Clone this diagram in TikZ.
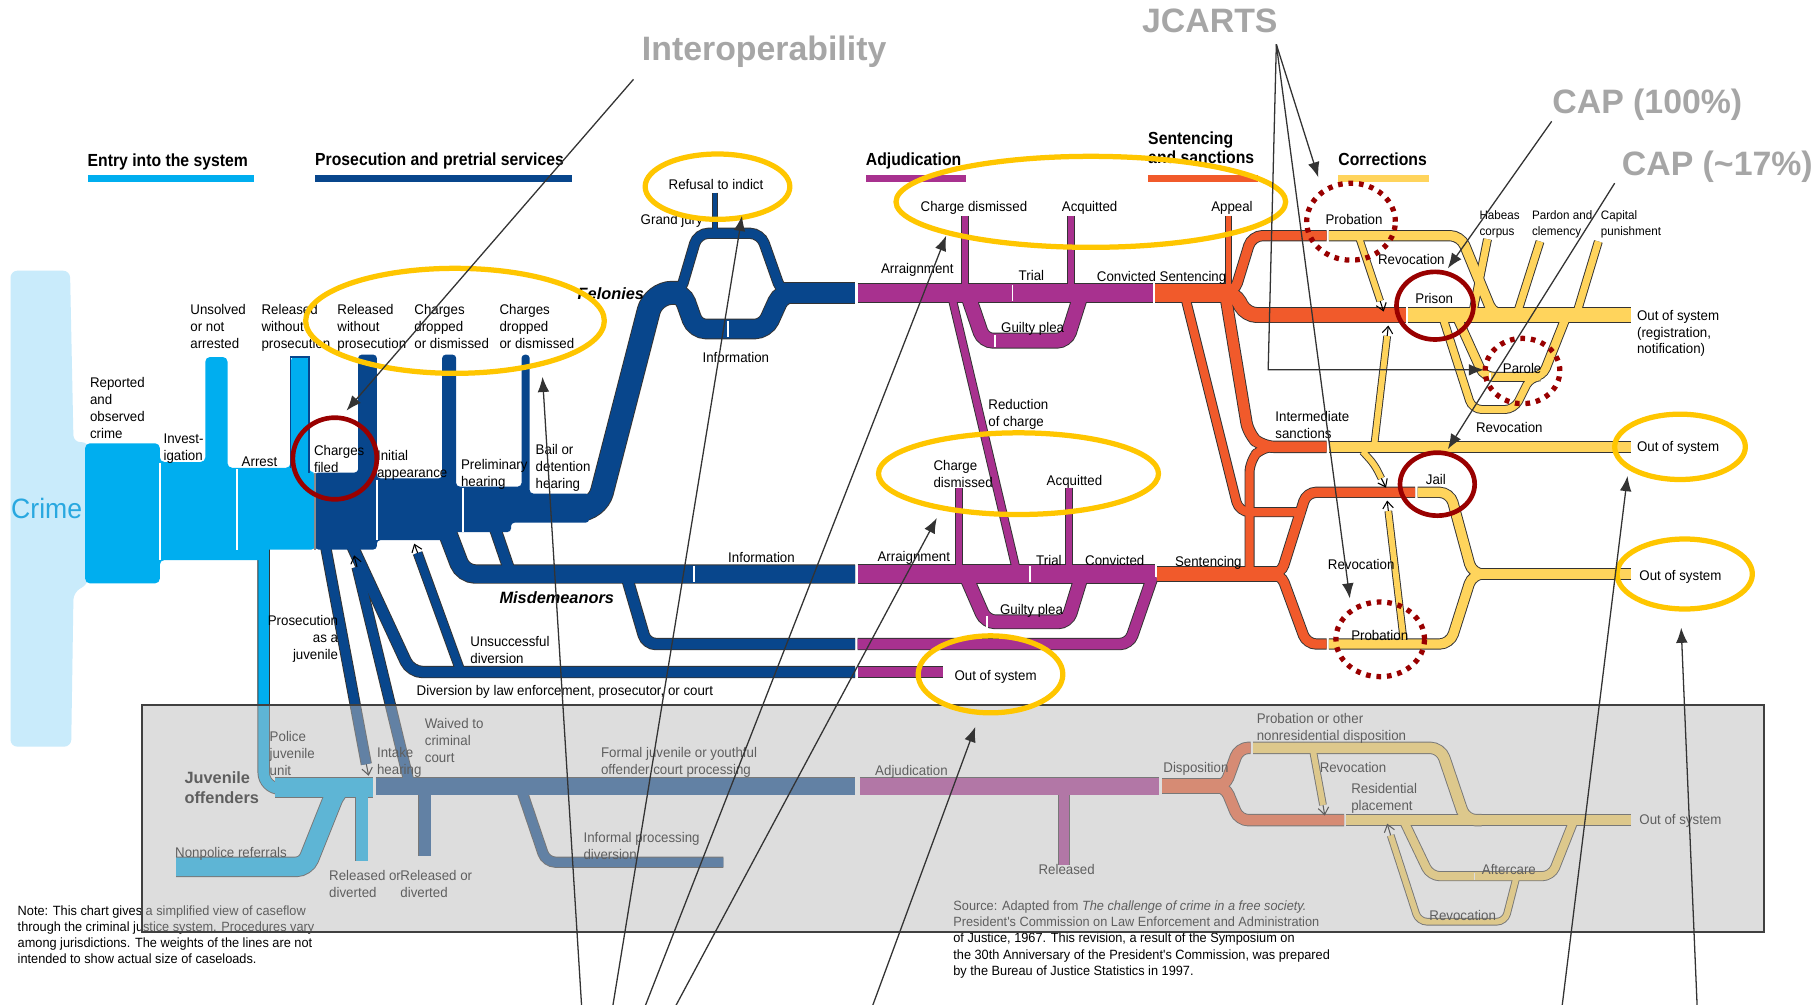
\documentclass[tikz,border=0pt]{standalone}
\usepackage{fontspec}
\setmainfont{Liberation Sans}
\newfontfamily\nar[FakeStretch=0.95]{Liberation Sans}
\newfontfamily\hdr[FakeStretch=0.9]{Liberation Sans}
\usetikzlibrary{arrows.meta}
\definecolor{cy}{HTML}{00AEEF}
\definecolor{crimebg}{HTML}{C9EBFB}
\definecolor{crimetxt}{HTML}{29A8E0}
\definecolor{db}{HTML}{08468C}
\definecolor{mg}{HTML}{A8318F}
\definecolor{orx}{HTML}{F15A2B}
\definecolor{yl}{HTML}{FFD45C}
\definecolor{ell}{HTML}{FFC600}
\definecolor{dred}{HTML}{990000}
\definecolor{anngray}{HTML}{A6A6A6}
\definecolor{veil}{HTML}{BDBDBD}
\pgfdeclarelayer{bg}
\pgfdeclarelayer{cas}
\pgfdeclarelayer{fil}
\pgfsetlayers{bg,cas,fil,main}
\newcommand\pp[4][]{%
 \begin{pgfonlayer}{cas}\draw[line width=#2pt+1.6pt,draw=black!80,rounded corners=7pt,#1] #4;\end{pgfonlayer}%
 \begin{pgfonlayer}{fil}\draw[line width=#2pt,draw=#3,rounded corners=7pt,#1] #4;\end{pgfonlayer}}
\tikzset{
 lab/.style={font=\nar\fontsize{12}{14.5}\selectfont,inner sep=0pt,anchor=north west,align=left},
 labs/.style={font=\nar\fontsize{10.5}{13.5}\selectfont,inner sep=0pt,anchor=north west,align=left},
 labr/.style={lab,anchor=north east,align=right},
 bi/.style={font=\bfseries\itshape\fontsize{14}{16}\selectfont,inner sep=0pt,anchor=north west},
 hd/.style={font=\hdr\bfseries\fontsize{15}{16.5}\selectfont,inner sep=0pt,anchor=north west,align=left},
 annt/.style={font=\bfseries\fontsize{29}{30}\selectfont,text=anngray,inner sep=0pt},
 ann/.style={draw=black!80,line width=1.1pt,-{Latex[length=13pt,width=10pt]}},
 tip/.style={draw=black,line width=0.9pt,-{Straight Barb[length=6pt,width=9pt]}},
 yel/.style={draw=ell,line width=4.5pt},
 rc/.style={draw=dred,line width=4pt},
 rd/.style={draw=dred,line width=4.5pt,dash pattern=on 4pt off 5pt},
 slit/.style={draw=white,line width=1.2pt},
}
\begin{document}
\begin{tikzpicture}[x=1pt,y=-1pt]
\useasboundingbox (0,0) rectangle (1560,861.4);
\begin{pgfonlayer}{bg}\fill[white] (0,0) rectangle (1560,861.4);\end{pgfonlayer}

% ---------- blocks ----------
\begin{pgfonlayer}{fil}
\fill[crimebg,rounded corners=6pt] (9,232) -- (60,232) -- (63,379) -- (76,379) -- (76,500) -- (63,508) -- (61,640) -- (9,640) -- cycle;
\fill[cy,rounded corners=4pt] (73,380) -- (137,380) -- (137,396) -- (176,396) -- (176,306) -- (195,306) -- (195,401) -- (249,401) -- (249,306) -- (265,306) -- (265,405) -- (271,405) -- (271,471) -- (226,471) -- (226,480) -- (137,480) -- (137,500) -- (73,500) -- cycle;
\fill[db,rounded corners=3pt] (270,405) -- (307,405) -- (307,304) -- (323,304) -- (323,410) -- (379,410) -- (379,304) -- (391,304) -- (391,417) -- (447,417) -- (447,304) -- (454,304) -- (454,423) -- (505,423) -- (505,448) -- (438,448) -- (438,456) -- (389,456) -- (389,463) -- (323,463) -- (323,471) -- (270,471) -- cycle;
\end{pgfonlayer}

% ---------- felonies ----------
\pp[rounded corners=16pt]{19}{db}{(470,437) -- (512,437) -- (560,251) -- (586,251)}
\pp[rounded corners=9pt]{8}{db}{(570,251) -- (583,251) -- (598,200) -- (652,200) -- (670,251) -- (690,251)}
\pp[rounded corners=9pt]{16}{db}{(570,251) -- (585,251) -- (596,282) -- (656,282) -- (670,251) -- (690,251)}
\pp{17}{db}{(668,251) -- (733,251)}
\pp{3}{db}{(613,165) -- (613,198)}
\pp{16}{mg}{(735,251) -- (988,251)}
\pp{5}{mg}{(827,185) -- (827,251)}
\pp{5}{mg}{(918,185) -- (918,251)}
\pp[rounded corners=8pt]{12}{mg}{(829,251) -- (843,292) -- (914,292) -- (927,251)}
\pp{6}{mg}{(815,251) -- (872,492)}
\pp{16}{orx}{(990,251) -- (1060,251)}
\pp{5}{orx}{(1053,185) -- (1053,251)}

% ---------- misdemeanors ----------
\pp[rounded corners=10pt]{15}{db}{(381,450) -- (397,492) -- (733,492)}
\pp{9}{db}{(424,452) -- (437,490)}
\pp{15}{mg}{(735,492) -- (990,492)}
\pp{5}{mg}{(822,418) -- (822,492)}
\pp{5}{mg}{(916,418) -- (916,492)}
\pp[rounded corners=8pt]{11}{mg}{(828,494) -- (845,533) -- (915,533) -- (927,494)}
\pp[rounded corners=8pt]{9}{db}{(537,494) -- (554,552) -- (733,552)}
\pp[rounded corners=8pt]{9}{mg}{(735,552) -- (968,552) -- (988,494)}
\pp[rounded corners=10pt]{9}{db}{(301,466) -- (352,576) -- (733,576)}
\pp{9}{mg}{(735,576) -- (808,576)}
\pp{7}{db}{(395,576) -- (358,474)}
\pp{8}{db}{(279,468) -- (314,655)}
\pp{8}{db}{(352,676) -- (306,486)}
\pp{12}{orx}{(992,492) -- (1100,492)}

% ---------- sentencing / corrections ----------
\pp[rounded corners=9pt]{8}{orx}{(1045,251) -- (1058,251) -- (1073,202) -- (1137,202)}
\pp[rounded corners=9pt]{12}{orx}{(1045,251) -- (1058,251) -- (1068,270) -- (1205,270)}
\pp[rounded corners=10pt]{9}{orx}{(1050,251) -- (1070,372) -- (1082,383) -- (1137,383)}
\pp[rounded corners=10pt]{7}{orx}{(1071,492) -- (1071,395) -- (1082,383) -- (1095,383)}
\pp[rounded corners=9pt]{7}{orx}{(1015,251) -- (1062,439) -- (1118,439)}
\pp[rounded corners=8pt]{8}{orx}{(1090,492) -- (1098,492) -- (1120,422) -- (1213,422)}
\pp[rounded corners=8pt]{8}{orx}{(1090,492) -- (1098,492) -- (1120,552) -- (1137,552)}
\pp[rounded corners=9pt]{8}{yl}{(1139,202) -- (1252,202) -- (1280,270) -- (1295,270)}
\pp{12}{yl}{(1207,270) -- (1398,270)}
\pp{6}{yl}{(1262,270) -- (1275,205)}
\pp{6}{yl}{(1300,270) -- (1320,207)}
\pp{6}{yl}{(1351,270) -- (1370,207)}
\pp[rounded corners=8pt]{7}{yl}{(1248,270) -- (1272,323) -- (1322,323) -- (1343,270)}
\pp[rounded corners=8pt]{6}{yl}{(1236,270) -- (1262,351) -- (1298,351) -- (1312,323) -- (1320,323)}
\pp{5}{yl}{(1165,204) -- (1183,258)}
\pp{9}{yl}{(1139,383) -- (1398,383)}
\pp{5}{yl}{(1178,381) -- (1189,288)}
\pp[rounded corners=6pt]{5}{yl}{(1168,387) -- (1178,398) -- (1184,410)}
\pp[rounded corners=9pt]{8}{yl}{(1215,422) -- (1243,422) -- (1262,492) -- (1280,492)}
\pp[rounded corners=9pt]{8}{yl}{(1139,552) -- (1243,552) -- (1262,492) -- (1280,492)}
\pp{8}{yl}{(1262,492) -- (1398,492)}
\pp{5}{yl}{(1203,548) -- (1190,438)}

% ---------- juvenile ----------
\pp[rounded corners=14pt]{9}{cy}{(226,468) -- (226,676) -- (300,676)}
\pp{16}{cy}{(236,675) -- (320,675)}
\pp[rounded corners=8pt]{16}{cy}{(151,743) -- (262,743) -- (288,678) -- (292,675)}
\pp{10}{cy}{(310,675) -- (310,738)}
\pp{14}{db}{(322,674) -- (733,674)}
\pp{10}{db}{(364,674) -- (364,734)}
\pp[rounded corners=8pt]{8}{db}{(446,674) -- (468,739) -- (620,739)}
\pp{14}{mg}{(737,674) -- (993,674)}
\pp{9}{mg}{(912,674) -- (912,741)}
\pp{12}{orx}{(996,674) -- (1052,674)}
\pp[rounded corners=8pt]{9}{orx}{(1040,674) -- (1050,674) -- (1062,641) -- (1072,641)}
\pp[rounded corners=8pt]{9}{orx}{(1040,674) -- (1050,674) -- (1062,703) -- (1152,703)}
\pp[rounded corners=9pt]{9}{yl}{(1074,641) -- (1235,641) -- (1256,703) -- (1270,703)}
\pp{9}{yl}{(1154,703) -- (1398,703)}
\pp{5}{yl}{(1125,641) -- (1134,690)}
\pp[rounded corners=8pt]{7}{yl}{(1203,703) -- (1226,751) -- (1330,751) -- (1349,703)}
\pp[rounded corners=7pt]{5}{yl}{(1300,751) -- (1290,790) -- (1216,790) -- (1192,716)}

% ---------- slits, edges, small arrow tips ----------
\draw[black!45,line width=1.5pt] (270,405) -- (270,471);
\draw[db,line width=1.2pt] (249,401) -- (249,306) -- (265,306) -- (265,405);
\draw[slit] (137,397) -- (137,480);
\draw[slit] (203,402) -- (203,471);
\draw[slit] (323,411) -- (323,463);
\draw[slit] (397,418) -- (397,456);
\draw[slit] (624,275) -- (624,289);
\draw[slit] (595,485) -- (595,499);
\draw[slit] (868,244) -- (868,258);
\draw[slit] (883,485) -- (883,499);
\draw[slit] (853,287) -- (853,297);
\draw[slit] (846,528) -- (846,538);
\draw[slit] (1277,320) -- (1277,326);
\draw[slit] (1264,748) -- (1264,754);
\draw[tip] (358,474) -- (355,466);
\draw[tip] (314,655) -- (316,665);
\draw[tip] (306,486) -- (303.5,476);
\draw[tip] (1183,258) -- (1186,267);
\draw[tip] (1189,288) -- (1190,279);
\draw[tip] (1184,410) -- (1188,418);
\draw[tip] (1190,438) -- (1189,429);
\draw[tip] (1134,690) -- (1135.5,699);
\draw[tip] (1192,716) -- (1189,706);

% ---------- headers ----------
\node[hd] (h1) at (75,132) {Entry into the system};
\node[hd] (h2) at (270,131) {Prosecution and pretrial services};
\node[hd] (h3) at (742,131) {Adjudication};
\node[hd] (h4) at (984,113) {Sentencing\\and sanctions};
\node[hd] (h5) at (1147,131) {Corrections};
\fill[cy] (75,150) rectangle (218,156);
\fill[db] (270,150) rectangle (490,156);
\fill[mg] (742,150) rectangle (828,156);
\fill[orx] (984,150) rectangle (1078,156);
\fill[yl] (1147,150) rectangle (1225,156);
\node[font=\nar\fontsize{24}{24}\selectfont,text=crimetxt,inner sep=0pt] (crime) at (40,436) {Crime};

% ---------- labels ----------
\node[lab] (t1) at (77,323.5) {Reported\\and\\observed\\crime};
\node[lab] (t2) at (140,371.5) {Invest-\\igation};
\node[lab] (t3) at (163,260.5) {Unsolved\\or not\\arrested};
\node[lab] (t4) at (207,391.5) {Arrest};
\node[lab] (t5) at (224,260.5) {Released\\without\\prosecution};
\node[lab] (t6) at (269,381.5) {Charges\\filed};
\node[lab] (t7) at (289,260.5) {Released\\without\\prosecution};
\node[lab] (t8) at (323,385.5) {Initial\\appearance};
\node[lab] (t9) at (355,260.5) {Charges\\dropped\\or dismissed};
\node[lab] (t10) at (395,393.5) {Preliminary\\hearing};
\node[lab] (t11) at (428,260.5) {Charges\\dropped\\or dismissed};
\node[lab] (t12) at (459,380.5) {Bail or\\detention\\hearing};
\node[bi] (t13) at (495,246) {Felonies};
\node[lab] (t14) at (549,183.5) {Grand jury};
\node[lab] (t15) at (573,153.5) {Refusal to indict};
\node[lab] (t16) at (602,301.5) {Information};
\node[lab] (t17) at (755,225.5) {Arraignment};
\node[lab] (t18) at (789,172.5) {Charge dismissed};
\node[lab] (t19) at (910,172.5) {Acquitted};
\node[lab] (t20) at (1038,172.5) {Appeal};
\node[lab] (t21) at (873,231.5) {Trial};
\node[lab] (t22) at (940,232.5) {Convicted Sentencing};
\node[lab] (t23) at (858,276.5) {Guilty plea};
\node[lab] (t24) at (847,342.5) {Reduction\\of charge};
\node[lab] (t25) at (800,394.5) {Charge\\dismissed};
\node[lab] (t26) at (897,407.5) {Acquitted};
\node[lab] (t27) at (624,473.5) {Information};
\node[lab] (t28) at (752,472.5) {Arraignment};
\node[lab] (t29) at (888,475.5) {Trial};
\node[lab] (t30) at (930,475.5) {Convicted};
\node[lab] (t31) at (1007,476.5) {Sentencing};
\node[bi] (t32) at (428,507) {Misdemeanors};
\node[lab] (t33) at (857,517.5) {Guilty plea};
\node[lab] (t34) at (818,574.5) {Out of system};
\node[lab] (t35) at (403,545.5) {Unsuccessful\\diversion};
\node[lab] (t36) at (357,587.5) {Diversion by law enforcement, prosecutor, or court};
\node[labr] (t37) at (290,527.5) {Prosecution\\as a\\juvenile};
\node[lab] (t38) at (1136,183.5) {Probation};
\node[labs] (t39) at (1268,180.5) {Habeas\\corpus};
\node[labs] (t40) at (1313,180.5) {Pardon and\\clemency};
\node[labs] (t41) at (1372,180.5) {Capital\\punishment};
\node[lab] (t42) at (1181,217.5) {Revocation};
\node[lab] (t43) at (1213,251.5) {Prison};
\node[lab] (t44) at (1403,265.5) {Out of system\\(registration,\\notification)};
\node[lab] (t45) at (1288,311.5) {Parole};
\node[lab] (t46) at (1265,361.5) {Revocation};
\node[lab] (t47) at (1093,352.5) {Intermediate\\sanctions};
\node[lab] (t48) at (1403,378.5) {Out of system};
\node[lab] (t49) at (1222,406.5) {Jail};
\node[lab] (t50) at (1138,479.5) {Revocation};
\node[lab] (t51) at (1158,540.5) {Probation};
\node[lab] (t52) at (1405,488.5) {Out of system};

% juvenile labels (faded by veil)
\node[font=\bfseries\fontsize{14}{17}\selectfont,inner sep=0pt,anchor=north west,align=left] (j1) at (158,661) {Juvenile\\offenders};
\node[lab] (j2) at (231,626.5) {Police\\juvenile\\unit};
\node[lab] (j3) at (323,640.5) {Intake\\hearing};
\node[lab] (j4) at (364,615.5) {Waived to\\criminal\\court};
\node[lab] (j5) at (150,726.5) {Nonpolice referrals};
\node[lab] (j6) at (282,745.5) {Released or\\diverted};
\node[lab] (j7) at (343,745.5) {Released or\\diverted};
\node[lab] (j8) at (515,640.5) {Formal juvenile or youthful\\offender court processing};
\node[lab] (j9) at (500,713.5) {Informal processing\\diversion};
\node[lab] (j10) at (750,655.5) {Adjudication};
\node[lab] (j11) at (890,740.5) {Released};
\node[lab] (j12) at (997,653.5) {Disposition};
\node[lab] (j13) at (1077,611.5) {Probation or other\\nonresidential disposition};
\node[lab] (j14) at (1131,653.5) {Revocation};
\node[lab] (j15) at (1158,671.5) {Residential\\placement};
\node[lab] (j16) at (1405,697.5) {Out of system};
\node[lab] (j17) at (1270,740.5) {Aftercare};
\node[lab] (j18) at (1225,780.5) {Revocation};
\node[lab,font=\nar\fontsize{11.5}{13.6}\selectfont] (note) at (15,776.5) {Note: This chart gives a simplified view of caseflow\\through the criminal justice system. Procedures vary\\among jurisdictions. The weights of the lines are not\\intended to show actual size of caseloads.};
\node[lab,font=\nar\fontsize{11.5}{14}\selectfont] (src) at (817,771.5) {Source: Adapted from \textit{The challenge of crime in a free society.}\\President's Commission on Law Enforcement and Administration\\of Justice, 1967. This revision, a result of the Symposium on\\the 30th Anniversary of the President's Commission, was prepared\\by the Bureau of Justice Statistics in 1997.};

% ---------- juvenile veil ----------
\fill[veil,fill opacity=0.5] (122,604) rectangle (1512,799);
\draw[black!75,line width=1.8pt] (122,604) rectangle (1512,799);

% ---------- highlight ellipses ----------
\draw[yel] (390,275) ellipse [x radius=128pt,y radius=45pt];
\draw[yel] (615,160) ellipse [x radius=62pt,y radius=28pt];
\draw[yel] (935,173) ellipse [x radius=167pt,y radius=39pt];
\draw[yel] (873,406) ellipse [x radius=120pt,y radius=35pt];
\draw[yel] (849,578) ellipse [x radius=62pt,y radius=33pt];
\draw[yel] (1440,383) ellipse [x radius=56pt,y radius=28pt];
\draw[yel] (1444,492) ellipse [x radius=58pt,y radius=30pt];
\draw[rc] (287,393) ellipse [x radius=36pt,y radius=35pt];
\draw[rc] (1230,262) ellipse [x radius=33pt,y radius=29pt];
\draw[rc] (1232,415) ellipse [x radius=32pt,y radius=27pt];
\draw[rd] (1158,190) ellipse [x radius=38pt,y radius=33pt];
\draw[rd] (1305,318) ellipse [x radius=32pt,y radius=28pt];
\draw[rd] (1183,548) ellipse [x radius=38pt,y radius=32pt];

% ---------- annotations ----------
\node[annt] (iop) at (655,44) {Interoperability};
\node[annt] (jc) at (1037,18) {JCARTS};
\node[annt] (cap1) at (1412,90) {CAP (100\%)};
\node[annt] (cap2) at (1472,143) {CAP (\textasciitilde17\%)};
\coordinate (iopS) at (543,68);
\coordinate (iopE) at (297,352);
\coordinate (jcS) at (1094,38);
\coordinate (jcA) at (1130,152);
\coordinate (jcB) at (1157,513);
\coordinate (jcK) at (1087,317);
\coordinate (jcC) at (1272,317);
\coordinate (c1S) at (1330,104);
\coordinate (c1E) at (1241,230);
\coordinate (c2S) at (1384,157);
\coordinate (c2E) at (1241,385);
\coordinate (b1S) at (499,870);
\coordinate (b1E) at (465,323);
\coordinate (b2S) at (524,870);
\coordinate (b2E) at (636,185);
\coordinate (b3S) at (550,870);
\coordinate (b3E) at (811,202);
\coordinate (b4S) at (575,870);
\coordinate (b4E) at (803,444);
\coordinate (b5S) at (745,870);
\coordinate (b5E) at (836,623);
\coordinate (b6S) at (1338,870);
\coordinate (b6E) at (1395,408);
\coordinate (b7S) at (1455,870);
\coordinate (b7E) at (1441,538);
\draw[ann] (iopS) -- (iopE);
\draw[ann] (jcS) -- (jcA);
\draw[ann] (jcS) -- (jcB);
\draw[ann] (jcS) -- (jcK) -- (jcC);
\draw[ann] (c1S) -- (c1E);
\draw[ann] (c2S) -- (c2E);
\draw[ann] (b1S) -- (b1E);
\draw[ann] (b2S) -- (b2E);
\draw[ann] (b3S) -- (b3E);
\draw[ann] (b4S) -- (b4E);
\draw[ann] (b5S) -- (b5E);
\draw[ann] (b6S) -- (b6E);
\draw[ann] (b7S) -- (b7E);
\end{tikzpicture}
\end{document}
